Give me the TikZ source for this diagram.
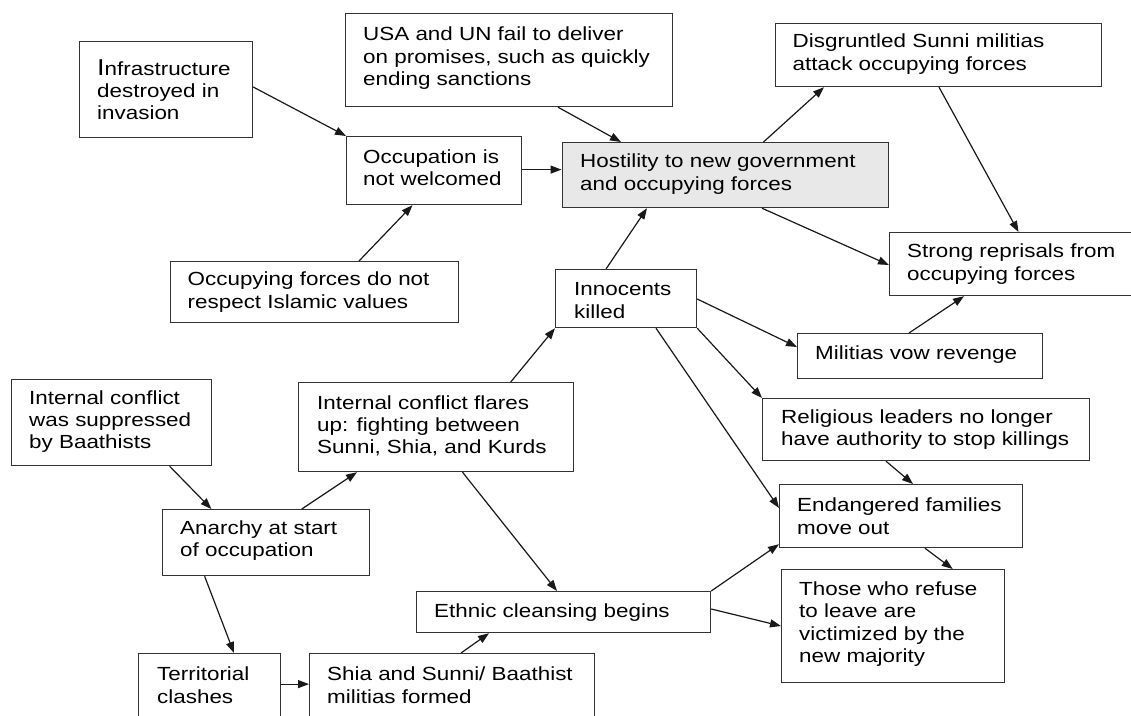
\documentclass[tikz,border=0pt]{standalone}
\usepackage{fontspec}
\setmainfont{Liberation Sans}[FakeStretch=1.18]
\usetikzlibrary{arrows.meta,calc}
\begin{document}
\begin{tikzpicture}[x=1pt,y=-1pt,
  box/.style={draw=black!80, line width=1.2pt, inner sep=0pt, anchor=north west},
  txt/.style={anchor=west, align=left, inner sep=0pt, text=black, font=\fontsize{19}{22.2}\selectfont},
  arr/.style={draw=black!90, line width=1.2pt, -{Triangle[length=11pt,width=8pt]}}]
\useasboundingbox (0,0) rectangle (1131,715);
\fill[white] (0,0) rectangle (1131,715);

% boxes
\node[box, minimum width=173pt, minimum height=96pt] (infra) at (79,41) {};
\node[box, minimum width=327pt, minimum height=93pt] (usa) at (345,13) {};
\node[box, minimum width=175pt, minimum height=68pt] (occ) at (346,136) {};
\node[box, minimum width=288pt, minimum height=61pt] (resp) at (170,261) {};
\node[box, minimum width=326pt, minimum height=65pt, fill=black!9] (host) at (561.5,142) {};
\node[box, minimum width=326.5pt, minimum height=63pt] (disg) at (774.5,23) {};
\node[box, minimum width=251pt, minimum height=63pt] (strong) at (889,232) {};
\node[box, minimum width=141pt, minimum height=58pt] (innoc) at (555,269) {};
\node[box, minimum width=245pt, minimum height=45pt] (vow) at (797,333) {};
\node[box, minimum width=327pt, minimum height=62pt] (relig) at (762,398) {};
\node[box, minimum width=243pt, minimum height=63pt] (endang) at (779,484) {};
\node[box, minimum width=223pt, minimum height=113pt] (those) at (781,569) {};
\node[box, minimum width=294pt, minimum height=41pt] (ethnic) at (416,591) {};
\node[box, minimum width=285pt, minimum height=65pt] (shia) at (309,653) {};
\node[box, minimum width=142pt, minimum height=65pt] (terr) at (138,653) {};
\node[box, minimum width=200pt, minimum height=86pt] (supp) at (11,379) {};
\node[box, minimum width=275pt, minimum height=89pt] (flares) at (298,382) {};
\node[box, minimum width=207pt, minimum height=66pt] (anarchy) at (162,509) {};

% texts
\node[txt] (infra-t) at ($(infra.west)+(18,0)$) {{\fontsize{23}{22.2}\selectfont I}nfrastructure\\destroyed in\\invasion};
\node[txt] (usa-t) at ($(usa.west)+(18,-2)$) {USA and UN fail to deliver\\on promises, such as quickly\\ending sanctions};
\node[txt] (occ-t) at ($(occ.west)+(17,-3)$) {Occupation is\\not welcomed};
\node[txt] (resp-t) at ($(resp.west)+(17.5,0)$) {Occupying forces do not\\respect Islamic values};
\node[txt] (host-t) at ($(host.west)+(18.5,-1)$) {Hostility to new government\\and occupying forces};
\node[txt] (disg-t) at ($(disg.west)+(18,-1)$) {Disgruntled Sunni militias\\attack occupying forces};
\node[txt] (strong-t) at ($(strong.west)+(18,0)$) {Strong reprisals from\\occupying forces};
\node[txt] (innoc-t) at ($(innoc.west)+(19,2)$) {Innocents\\killed};
\node[txt] (vow-t) at ($(vow.west)+(18,-2)$) {Militias vow revenge};
\node[txt] (relig-t) at ($(relig.west)+(19,0)$) {Religious leaders no longer\\have authority to stop killings};
\node[txt] (endang-t) at ($(endang.west)+(18,0)$) {Endangered families\\move out};
\node[txt] (those-t) at ($(those.west)+(18,-2)$) {Those who refuse\\to leave are\\victimized by the\\new majority};
\node[txt] (ethnic-t) at ($(ethnic.west)+(18,0)$) {Ethnic cleansing begins};
\node[txt] (shia-t) at ($(shia.west)+(18,-1)$) {Shia and Sunni/ Baathist\\militias formed};
\node[txt] (terr-t) at ($(terr.west)+(19,-1)$) {Territorial\\clashes};
\node[txt] (supp-t) at ($(supp.west)+(18,-1)$) {Internal conflict\\was suppressed\\by Baathists};
\node[txt] (flares-t) at ($(flares.west)+(19,-1)$) {Internal conflict flares\\up: fighting between\\Sunni, Shia, and Kurds};
\node[txt] (anarchy-t) at ($(anarchy.west)+(18,-2)$) {Anarchy at start\\of occupation};

% connectors
\draw[arr] ($(infra.north east)+(0,46)$) -- (occ.north west);
\draw[arr] ($(usa.south west)+(213,0)$) -- ($(host.north west)+(59.5,0)$);
\draw[arr] ($(occ.east)+(0,-1)$) -- ($(occ.east -| host.west)+(0,-1)$);
\draw[arr] ($(resp.north west)+(189,0)$) -- ($(occ.south west)+(66.5,0)$);
\draw[arr] ($(host.north west)+(202,0)$) -- ($(disg.south west)+(49.5,0)$);
\draw[arr] ($(disg.south west)+(164.5,0)$) -- ($(strong.north west)+(129.5,0)$);
\draw[arr] ($(host.south west)+(200.5,0)$) -- ($(strong.north west)+(0,33)$);
\draw[arr] ($(innoc.north west)+(51,0)$) -- ($(host.south west)+(85.5,0)$);
\draw[arr] ($(vow.north west)+(112,0)$) -- ($(strong.south west)+(75,0)$);
\draw[arr] ($(innoc.north east)+(0,30)$) -- ($(vow.north west)+(0,14)$);
\draw[arr] (innoc.south east) -- (relig.north west);
\draw[arr] ($(innoc.south west)+(101,0)$) -- ($(endang.north west)+(0,24)$);
\draw[arr] ($(relig.south west)+(124,0)$) -- ($(endang.north west)+(134,0)$);
\draw[arr] ($(endang.south west)+(146,0)$) -- ($(those.north west)+(171.7,0)$);
\draw[arr] (ethnic.north east) -- ($(endang.south west)+(0,-4)$);
\draw[arr] ($(ethnic.north east)+(0,18)$) -- ($(those.north west)+(0,57)$);
\draw[arr] ($(flares.north west)+(212.7,0)$) -- (innoc.south west);
\draw[arr] ($(flares.south west)+(164.5,0)$) -- ($(ethnic.north west)+(141,0)$);
\draw[arr] ($(supp.south west)+(158.6,0)$) -- ($(anarchy.north west)+(49.4,0)$);
\draw[arr] ($(anarchy.north west)+(139.8,0)$) -- ($(flares.south west)+(59,0)$);
\draw[arr] ($(anarchy.south west)+(42.6,0)$) -- ($(terr.north west)+(96,0)$);
\draw[arr] ($(terr.east)+(0,-2)$) -- ($(terr.east -| shia.west)+(0,-2)$);
\draw[arr] ($(shia.north west)+(152,0)$) -- ($(ethnic.south west)+(73,0)$);
\end{tikzpicture}
\end{document}
